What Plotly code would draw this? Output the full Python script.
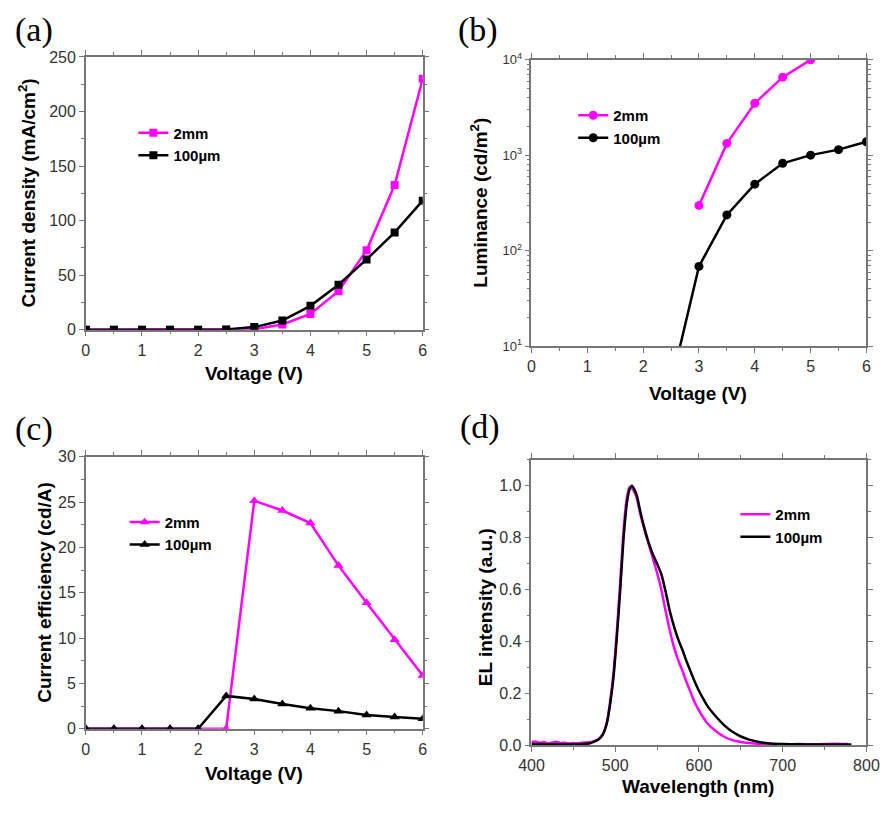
import plotly.graph_objects as go

# ---------------- data ----------------
voltage = [0, 0.5, 1, 1.5, 2, 2.5, 3, 3.5, 4, 4.5, 5, 5.5, 6]

# (a) current density (mA/cm2)
j_2mm = [0, 0, 0, 0, 0, 0, 0.5, 4.8, 14.4, 35.3, 72.8, 132.6, 230]
j_100um = [0, 0, 0, 0, 0, 0.3, 2.4, 8.4, 21.9, 41.3, 64.4, 89.2, 118.3]

# (b) luminance (cd/m2)
lum_v_2mm = [3, 3.5, 4, 4.5, 5]
lum_2mm = [299, 1334, 3510, 6590, 10000]
lum_v_100um = [2.5, 3, 3.5, 4, 4.5, 5, 5.5, 6]
lum_100um = [4, 68.7, 238, 499, 826, 1005, 1148, 1387]

# (c) current efficiency (cd/A)
ce_2mm = [0, 0, 0, 0, 0, 0, 25.15, 24.08, 22.7, 18.0, 13.9, 9.83, 5.88]
ce_100um = [0, 0, 0, 0, 0, 3.62, 3.27, 2.73, 2.26, 1.94, 1.51, 1.29, 1.11]

# (d) EL spectra
wl_2mm = [400, 405, 410, 415, 420, 425, 430, 435, 440, 445, 450, 455, 460, 465, 470,
          475, 480, 485, 490, 494, 498, 502, 506, 510, 514, 517, 520, 523, 526, 530,
          535, 540, 545, 550, 555, 560, 565, 570, 575, 580, 585, 590, 595, 600, 605,
          610, 620, 630, 640, 650, 660, 670, 680, 690, 700, 720, 740, 760, 778]
el_2mm = [0.012, 0.015, 0.010, 0.013, 0.008, 0.011, 0.014, 0.009, 0.010, 0.007, 0.009, 0.008, 0.010, 0.011, 0.012,
          0.016, 0.024, 0.042, 0.088, 0.17, 0.28, 0.44, 0.63, 0.83, 0.955, 0.995, 0.99, 0.975, 0.95, 0.89,
          0.83, 0.775, 0.72, 0.665, 0.60, 0.52, 0.445, 0.38, 0.33, 0.29, 0.245, 0.205, 0.165, 0.135, 0.108,
          0.085, 0.055, 0.033, 0.020, 0.013, 0.009, 0.006, 0.005, 0.004, 0.004, 0.005, 0.004, 0.006, 0.005]

wl_100um = [400, 410, 420, 430, 440, 450, 460, 470, 475, 480, 485, 490, 494, 498, 502,
            506, 510, 514, 517, 520, 523, 526, 530, 535, 540, 545, 550, 555, 560, 565,
            570, 575, 580, 585, 590, 595, 600, 605, 610, 620, 630, 640, 650, 660, 670,
            680, 690, 700, 720, 740, 760, 782]
el_100um = [0.005, 0.005, 0.004, 0.005, 0.004, 0.004, 0.005, 0.008, 0.014, 0.022, 0.040, 0.085, 0.16, 0.265, 0.42,
            0.60, 0.80, 0.935, 0.985, 1.0, 0.985, 0.96, 0.90, 0.835, 0.78, 0.735, 0.70, 0.66, 0.595, 0.52,
            0.46, 0.41, 0.37, 0.325, 0.285, 0.245, 0.21, 0.18, 0.152, 0.112, 0.078, 0.052, 0.034, 0.022, 0.014,
            0.009, 0.006, 0.005, 0.004, 0.003, 0.003, 0.003]

log_ticks = [10, 100, 1000, 10000]
log_ticktext = ["10<sup>1</sup>", "10<sup>2</sup>", "10<sup>3</sup>", "10<sup>4</sup>"]
log_minor = [v * m for v in [10, 100, 1000] for m in range(2, 10)]

# ---------------- style ----------------
MAG = "#FF00FF"
BLK = "#000000"
W, H = 894, 813
SANS = "Liberation Sans, Arial, sans-serif"
SERIF = "Liberation Serif, Times New Roman, serif"


def px(x):
    return x / W


def py(y):
    return 1 - y / H


fig = go.Figure()

# (a)
fig.add_trace(go.Scatter(x=voltage, y=j_2mm, name="2mm", mode="lines+markers",
                         line=dict(color=MAG, width=2.5), marker=dict(symbol="square", size=8, color=MAG),
                         xaxis="x", yaxis="y", legend="legend"))
fig.add_trace(go.Scatter(x=voltage, y=j_100um, name="100µm", mode="lines+markers",
                         line=dict(color=BLK, width=2.5), marker=dict(symbol="square", size=8, color=BLK),
                         xaxis="x", yaxis="y", legend="legend"))
# (b)
fig.add_trace(go.Scatter(x=lum_v_2mm, y=lum_2mm, name="2mm", mode="lines+markers",
                         line=dict(color=MAG, width=2.5), marker=dict(symbol="circle", size=9, color=MAG),
                         xaxis="x2", yaxis="y2", legend="legend2"))
fig.add_trace(go.Scatter(x=lum_v_100um, y=lum_100um, name="100µm", mode="lines+markers",
                         line=dict(color=BLK, width=2.5), marker=dict(symbol="circle", size=9, color=BLK),
                         xaxis="x2", yaxis="y2", legend="legend2"))
# (c)
fig.add_trace(go.Scatter(x=voltage, y=ce_2mm, name="2mm", mode="lines+markers",
                         line=dict(color=MAG, width=2.5), marker=dict(symbol="triangle-up", size=9, color=MAG),
                         xaxis="x3", yaxis="y3", legend="legend3"))
fig.add_trace(go.Scatter(x=voltage, y=ce_100um, name="100µm", mode="lines+markers",
                         line=dict(color=BLK, width=2.5), marker=dict(symbol="triangle-up", size=9, color=BLK),
                         xaxis="x3", yaxis="y3", legend="legend3"))
# (d)
fig.add_trace(go.Scatter(x=wl_2mm, y=el_2mm, name="2mm", mode="lines",
                         line=dict(color=MAG, width=2.5, shape="spline", smoothing=0.6),
                         xaxis="x4", yaxis="y4", legend="legend4"))
fig.add_trace(go.Scatter(x=wl_100um, y=el_100um, name="100µm", mode="lines",
                         line=dict(color=BLK, width=2.5, shape="spline", smoothing=0.6),
                         xaxis="x4", yaxis="y4", legend="legend4"))

axis_common = dict(showline=True, linecolor="#777777", linewidth=1.5, mirror="allticks",
                   ticks="outside", ticklen=5, tickwidth=1.2, tickcolor="#777777",
                   showgrid=False, zeroline=False,
                   tickfont=dict(family=SANS, size=16, color="#333333"))

left_dom = [px(75), px(422)]
right_dom = [px(534), px(879)]

fig.update_layout(
    width=W, height=H, margin=dict(l=0, r=0, t=0, b=0),
    paper_bgcolor="white", plot_bgcolor="white",
    xaxis=dict(domain=left_dom, anchor="y", range=[0, 6], dtick=1,
               minor=dict(dtick=0.5, ticks="outside", ticklen=3, tickcolor="#777777"), **axis_common),
    yaxis=dict(domain=[py(328), py(49)], anchor="x", range=[0, 250], dtick=50,
               minor=dict(dtick=25, ticks="outside", ticklen=3, tickcolor="#777777"), **axis_common),
    xaxis2=dict(domain=right_dom, anchor="y2", range=[0, 6], dtick=1,
                minor=dict(dtick=0.5, ticks="outside", ticklen=3, tickcolor="#777777"), **axis_common),
    yaxis2=dict(domain=[py(345), py(52)], anchor="x2", type="log", range=[1, 4],
                tickmode="array", tickvals=log_ticks, ticktext=log_ticktext,
                minor=dict(tickmode="array", tickvals=log_minor, ticks="outside", ticklen=3, tickcolor="#777777"),
                **{**axis_common, "tickfont": dict(family=SANS, size=13, color="#333333")}),
    xaxis3=dict(domain=left_dom, anchor="y3", range=[0, 6], dtick=1,
                minor=dict(dtick=0.5, ticks="outside", ticklen=3, tickcolor="#777777"), **axis_common),
    yaxis3=dict(domain=[py(736), py(458)], anchor="x3", range=[0, 30], dtick=5,
                minor=dict(dtick=2.5, ticks="outside", ticklen=3, tickcolor="#777777"), **axis_common),
    xaxis4=dict(domain=right_dom, anchor="y4", range=[400, 800], dtick=100,
                minor=dict(dtick=50, ticks="outside", ticklen=3, tickcolor="#777777"), **axis_common),
    yaxis4=dict(domain=[py(753), py(461)], anchor="x4", range=[0, 1.1], dtick=0.2, tickformat=".1f",
                minor=dict(dtick=0.1, ticks="outside", ticklen=3, tickcolor="#777777"), **axis_common),
)

legend_common = dict(xanchor="left", yanchor="top", bgcolor="rgba(0,0,0,0)", borderwidth=0,
                     font=dict(family=SANS, size=15, color="black", weight="bold"), tracegroupgap=0)
fig.update_layout(
    legend=dict(x=px(124), y=py(110), **legend_common),
    legend2=dict(x=px(577), y=py(92), **legend_common),
    legend3=dict(x=px(115), y=py(508), **legend_common),
    legend4=dict(x=px(744), y=py(500), **legend_common),
)

ann = []
for label, x, y in [("(a)", 0, 0), ("(b)", 456, 0), ("(c)", 0, 408), ("(d)", 458, 406)]:
    ann.append(dict(text=label, x=px(x), y=py(y), xref="paper", yref="paper", xanchor="left", yanchor="top",
                    showarrow=False, font=dict(family=SERIF, size=34, color="black")))

title_font = dict(family=SANS, size=19, color="black", weight="bold")
for text, x, y in [("Voltage (V)", 248, 373), ("Voltage (V)", 706, 393),
                   ("Voltage (V)", 248, 782), ("Wavelength (nm)", 706, 795)]:
    ann.append(dict(text=text, x=px(x), y=py(y), xref="paper", yref="paper", xanchor="center", yanchor="middle",
                    showarrow=False, font=title_font))
for text, x, y in [("Current density (mA/cm<sup>2</sup>)", 14, 188), ("Luminance (cd/m<sup>2</sup>)", 480, 198),
                   ("Current efficiency (cd/A)", 33, 597), ("EL intensity (a.u.)", 487, 612)]:
    ann.append(dict(text=text, x=px(x), y=py(y), xref="paper", yref="paper", xanchor="center", yanchor="middle",
                    textangle=-90, showarrow=False, font=title_font))
fig.update_layout(annotations=ann)

fig.write_html("out.html")
